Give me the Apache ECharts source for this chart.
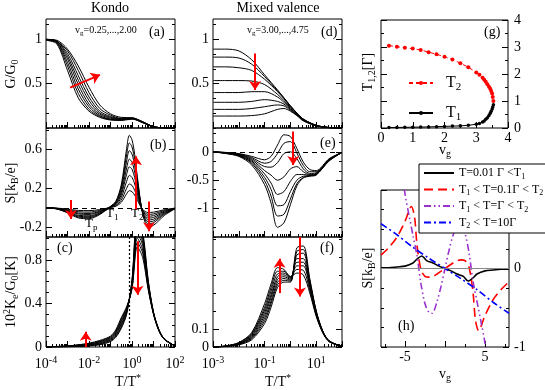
<!DOCTYPE html>
<html><head><meta charset="utf-8">
<script src="https://cdn.jsdelivr.net/npm/echarts@6.0.0/dist/echarts.min.js"></script>
<style>html,body{margin:0;padding:0;background:#fff;}#chart{width:545px;height:390px;}</style>
</head><body><div id="chart"></div>
<script>
// ================= DATA =================
// x grids are log10(T/T*)
// (a) Kondo: G/G0, v_g = 0.25 ... 2.00
const logT_a = [-4,-3.5,-3,-2.5,-2,-1.5,-1,-0.5,0,0.5,1,1.5,2];
const G_kondo = [
  [0.99,0.95,0.65,0.34,0.19,0.12,0.09,0.085,0.10,0.06,0.012,0.002,0],
  [0.99,0.96,0.70,0.39,0.21,0.13,0.095,0.09,0.105,0.06,0.012,0.002,0],
  [1.0,0.97,0.74,0.44,0.24,0.14,0.10,0.09,0.105,0.062,0.012,0.002,0],
  [1.0,0.97,0.78,0.49,0.27,0.155,0.11,0.095,0.11,0.064,0.013,0.002,0],
  [1.0,0.98,0.81,0.54,0.31,0.17,0.12,0.10,0.11,0.066,0.013,0.002,0],
  [1.0,0.98,0.84,0.59,0.35,0.19,0.13,0.105,0.11,0.068,0.013,0.002,0],
  [1.0,0.98,0.87,0.65,0.40,0.22,0.145,0.11,0.115,0.07,0.014,0.002,0],
  [1.0,0.99,0.89,0.70,0.46,0.26,0.16,0.12,0.115,0.07,0.014,0.002,0]
];
// (b) Kondo: thermopower S
const logT_b = [-4,-3.5,-3,-2.5,-2,-1.5,-1,-0.75,-0.5,-0.25,-0.125,0,0.125,0.25,0.5,0.75,1,1.5,2];
const S_kondo = [
  [0,-0.003,-0.0135,-0.027,-0.029,-0.018,0.004,0.016,0.056,0.144,0.176,0.166,0.13,0.076,-0.018,-0.048,-0.045,-0.02,-0.003],
  [0,-0.005,-0.02,-0.04,-0.044,-0.027,0.005,0.022,0.078,0.2,0.245,0.23,0.18,0.105,-0.025,-0.067,-0.063,-0.028,-0.004],
  [0,-0.006,-0.027,-0.054,-0.058,-0.036,0.007,0.031,0.105,0.272,0.333,0.313,0.245,0.143,-0.032,-0.086,-0.081,-0.036,-0.005],
  [0,-0.007,-0.032,-0.063,-0.068,-0.042,0.009,0.039,0.133,0.344,0.421,0.396,0.31,0.181,-0.039,-0.105,-0.099,-0.044,-0.006],
  [0,-0.009,-0.038,-0.077,-0.082,-0.051,0.01,0.046,0.158,0.408,0.5,0.469,0.367,0.214,-0.046,-0.124,-0.117,-0.052,-0.007],
  [0,-0.01,-0.043,-0.086,-0.092,-0.057,0.012,0.054,0.186,0.48,0.588,0.552,0.432,0.252,-0.053,-0.143,-0.135,-0.06,-0.008],
  [0,-0.011,-0.047,-0.095,-0.102,-0.063,0.014,0.061,0.211,0.544,0.666,0.626,0.49,0.286,-0.06,-0.162,-0.153,-0.068,-0.009],
  [0,-0.012,-0.052,-0.104,-0.112,-0.069,0.015,0.068,0.236,0.608,0.745,0.699,0.547,0.319,-0.07,-0.19,-0.18,-0.08,-0.01]
];
// (c) Kondo: 10^2 K_e/G0
const logT_c = [-4,-3.5,-3,-2.5,-2,-1.5,-1,-0.75,-0.5,-0.25,0,0.25,0.5,0.75,1,1.25,1.5,2];
const K_kondo = [
  [0,0.001,0.002,0.005,0.01,0.02,0.05,0.09,0.17,0.3,0.62,1.2,1.06,0.62,0.32,0.16,0.075,0.01],
  [0,0.002,0.003,0.007,0.013,0.026,0.057,0.1,0.184,0.31,0.607,1.16,1.03,0.607,0.317,0.159,0.074,0.01],
  [0.001,0.002,0.004,0.009,0.017,0.031,0.064,0.11,0.199,0.32,0.594,1.12,0.99,0.594,0.314,0.157,0.074,0.01],
  [0.001,0.003,0.005,0.011,0.02,0.037,0.071,0.12,0.213,0.33,0.581,1.08,0.96,0.581,0.311,0.156,0.073,0.01],
  [0.001,0.003,0.006,0.013,0.023,0.043,0.079,0.13,0.227,0.34,0.569,1.04,0.93,0.569,0.309,0.154,0.072,0.01],
  [0.001,0.004,0.008,0.016,0.027,0.049,0.086,0.14,0.241,0.35,0.556,1.0,0.89,0.556,0.306,0.153,0.071,0.01],
  [0.002,0.004,0.009,0.018,0.031,0.054,0.093,0.15,0.256,0.36,0.543,0.96,0.86,0.543,0.303,0.151,0.071,0.01],
  [0.002,0.005,0.01,0.02,0.035,0.06,0.1,0.16,0.27,0.37,0.53,0.92,0.82,0.53,0.3,0.15,0.07,0.01]
];
// (d) Mixed valence: G/G0, v_g = 3.00 ... 4.75
const logT_d = [-3,-2.5,-2,-1.5,-1,-0.5,-0.25,0,0.25,0.5,1,1.5,2];
const G_mv = [
  [0.89,0.89,0.87,0.77,0.6,0.43,0.34,0.25,0.17,0.1,0.03,0.005,0],
  [0.80,0.80,0.79,0.72,0.58,0.42,0.34,0.25,0.17,0.1,0.03,0.005,0],
  [0.69,0.69,0.68,0.65,0.55,0.41,0.33,0.24,0.165,0.1,0.03,0.005,0],
  [0.535,0.535,0.535,0.53,0.49,0.38,0.31,0.23,0.16,0.095,0.028,0.005,0],
  [0.40,0.40,0.40,0.41,0.41,0.35,0.29,0.22,0.155,0.09,0.027,0.005,0],
  [0.29,0.29,0.29,0.30,0.32,0.30,0.27,0.21,0.15,0.09,0.026,0.004,0],
  [0.21,0.21,0.21,0.22,0.24,0.26,0.25,0.2,0.145,0.085,0.025,0.004,0],
  [0.135,0.135,0.135,0.14,0.16,0.21,0.22,0.19,0.14,0.08,0.024,0.004,0]
];
// (e) Mixed valence: S
const logT_e = [-3,-2.5,-2,-1.5,-1,-0.75,-0.5,-0.25,0,0.25,0.5,0.75,1,1.5,2];
const S_mv = [
  [0,-0.01,-0.03,-0.08,-0.14,-0.08,0.12,0.3,0.27,0.06,-0.18,-0.31,-0.33,-0.12,-0.01],
  [0,-0.013,-0.037,-0.1,-0.2,-0.17,-0.03,0.15,0.18,-0.02,-0.24,-0.35,-0.35,-0.13,-0.01],
  [0,-0.016,-0.044,-0.12,-0.26,-0.27,-0.19,-0.03,0.0,-0.12,-0.3,-0.38,-0.37,-0.14,-0.01],
  [0,-0.019,-0.051,-0.14,-0.33,-0.41,-0.5,-0.44,-0.3,-0.26,-0.35,-0.4,-0.38,-0.14,-0.01],
  [0,-0.021,-0.058,-0.16,-0.39,-0.55,-0.75,-0.7,-0.52,-0.4,-0.4,-0.41,-0.39,-0.15,-0.01],
  [0,-0.024,-0.065,-0.18,-0.45,-0.66,-0.95,-0.93,-0.7,-0.5,-0.43,-0.42,-0.4,-0.15,-0.01],
  [0,-0.027,-0.072,-0.2,-0.51,-0.78,-1.13,-1.1,-0.83,-0.56,-0.45,-0.42,-0.4,-0.16,-0.01],
  [0,-0.03,-0.08,-0.23,-0.58,-0.9,-1.33,-1.25,-0.93,-0.6,-0.46,-0.43,-0.41,-0.16,-0.01]
];
// (f) Mixed valence: 10^2 K_e/G0
const logT_f = [-3,-2.5,-2,-1.5,-1,-0.75,-0.5,-0.25,0,0.25,0.5,0.75,1,1.25,1.5,2];
const K_mv = [
  [0,0.003,0.012,0.04,0.13,0.22,0.33,0.36,0.36,0.55,0.56,0.38,0.2,0.09,0.035,0.003],
  [0,0.003,0.014,0.046,0.145,0.24,0.345,0.37,0.365,0.53,0.54,0.37,0.2,0.09,0.034,0.003],
  [0,0.004,0.016,0.051,0.16,0.255,0.36,0.38,0.37,0.51,0.52,0.36,0.195,0.088,0.033,0.003],
  [0,0.004,0.018,0.057,0.175,0.275,0.375,0.39,0.375,0.49,0.49,0.35,0.19,0.086,0.033,0.003],
  [0,0.005,0.019,0.063,0.19,0.29,0.39,0.40,0.38,0.47,0.47,0.34,0.185,0.085,0.032,0.003],
  [0,0.005,0.021,0.069,0.205,0.31,0.405,0.41,0.385,0.45,0.45,0.33,0.18,0.083,0.031,0.003],
  [0,0.006,0.023,0.074,0.22,0.33,0.42,0.42,0.39,0.43,0.425,0.315,0.175,0.082,0.03,0.003],
  [0,0.006,0.025,0.08,0.24,0.35,0.44,0.43,0.39,0.41,0.4,0.3,0.17,0.08,0.03,0.003]
];
// (g) crossing temperatures vs v_g
const vg_T2 = [0.25,0.5,0.75,1.0,1.25,1.5,1.75,2.0,2.25,2.5,2.75,3.0,3.1,3.2,3.25,3.3,3.35,3.4,3.44,3.47,3.5,3.52,3.54];
const T2_vals = [3.05,3.01,2.97,2.94,2.89,2.81,2.73,2.64,2.54,2.40,2.25,2.06,1.97,1.86,1.79,1.71,1.62,1.53,1.45,1.37,1.28,1.15,1.0];
const vg_T1 = [0.25,0.5,0.75,1.0,1.25,1.5,1.75,2.0,2.25,2.5,2.75,3.0,3.1,3.2,3.25,3.3,3.35,3.4,3.44,3.47,3.5,3.52,3.54];
const T1_vals = [0.02,0.02,0.025,0.03,0.035,0.04,0.05,0.06,0.07,0.08,0.1,0.14,0.17,0.22,0.26,0.32,0.38,0.46,0.55,0.62,0.7,0.78,0.86];
// (h) S vs v_g at four temperatures
const h_black_x = [-8,-7,-6,-5,-4,-3.5,-2.9,-2.3,-1.5,-0.75,0,0.75,1.5,2.3,2.9,3.5,4,5,6,7,8];
const h_black_y = [0.01,0.01,0.02,0.03,0.07,0.12,0.16,0.1,0.07,0.03,0,-0.03,-0.07,-0.1,-0.16,-0.12,-0.07,-0.03,-0.02,-0.01,-0.01];
const h_red_x = [-8,-7,-6,-5,-4.2,-3.8,-3.5,-3,-2.5,-2,-1.5,-1,0,1,1.5,2,2.5,3,3.5,3.8,4.2,5,6,7,8];
const h_red_y = [0.17,0.27,0.4,0.6,0.79,0.65,0.3,-0.02,-0.1,-0.11,-0.1,-0.07,0,0.07,0.1,0.11,0.1,0.02,-0.3,-0.65,-0.79,-0.6,-0.4,-0.27,-0.17];
const h_purple_x = [-5.4,-5,-4.5,-4,-3.5,-3,-2.5,-2,-1.6,-1,-0.5,0,0.5,1,1.6,2,2.5,3,3.5,4,4.5,5,5.4];
const h_purple_y = [1.25,0.95,0.68,0.42,0.16,-0.2,-0.45,-0.56,-0.57,-0.42,-0.23,0,0.23,0.42,0.57,0.56,0.45,0.2,-0.16,-0.42,-0.68,-0.95,-1.25];
const h_blue_x = [-8,-6,-4,-2,0,2,4,6,8];
const h_blue_y = [0.57,0.43,0.27,0.13,0,-0.13,-0.27,-0.43,-0.57];
// red arrows [x1,y1,x2,y2] in data units
const arrows_a = [[-2.88,0.455,-1.49,0.60]];
const arrows_b = [[-2.84,0.08,-2.84,-0.116],[0.19,-0.02,0.19,0.53],[0.79,0.065,0.79,-0.24]];
const arrows_c = [[-2.15,0.0,-2.15,0.14],[0.26,0.97,0.26,0.48]];
const arrows_d = [[-1.37,0.84,-1.37,0.43]];
const arrows_e = [[0.11,0.36,0.11,-0.23]];
const arrows_f = [[-0.42,0.30,-0.42,0.49],[0.37,0.61,0.37,0.28]];
const markT_c = -0.14;
// tick labels
const ticksLeftLab = [-4,-2,0,2];
const ticksMidLab = [-3,-1,1];

// ================= BUILD =================
const FONT = 'Liberation Serif';
function R(fs){
  const s = Math.round(fs*0.68), p = Math.round(fs*0.55);
  return {
    n:{fontFamily:FONT,fontSize:fs,color:'#000'},
    sup:{fontFamily:FONT,fontSize:s,color:'#000',padding:[0,0,p,0]},
    sub:{fontFamily:FONT,fontSize:s,color:'#000',padding:[p,0,0,0]}
  };
}
function range(a,b,s){ const r=[]; for(let i=0; a+i*s<=b+1e-9; i++) r.push(+(a+i*s).toFixed(5)); return r; }
function logMinor(d0,d1){ const r=[]; for(let d=d0; d<d1; d++) for(let k=2;k<=9;k++) r.push(d+Math.log10(k)); return r; }
function numfmt(v){ return Math.abs(v)<1e-9 ? '0' : String(+v.toFixed(2)); }
function linfmt(v){ return '{n|'+numfmt(v)+'}'; }
function logfmt(v){ return '{n|10}{sup|'+Math.round(v)+'}'; }

const grids=[], xAxes=[], yAxes=[], series=[];
const TICK = {color:'#000', width:1};
function panel(p){
  const gi = grids.length;
  grids.push({left:p.l, top:p.t, width:p.w, height:p.h, show:true, borderColor:'#000', borderWidth:1,
    backgroundColor:'rgba(0,0,0,0)', containLabel:false, outerBoundsMode:'none'});
  const base = () => ({type:'value', gridIndex:gi, splitLine:{show:false}, axisLine:{show:false, onZero:false},
    minorTick:{show:false}, minorSplitLine:{show:false}, silent:true});
  const lab = (vals, fmt, margin) => ({show:true, customValues:vals, formatter:fmt, margin:margin,
    rich:R(14), color:'#000', fontFamily:FONT, fontSize:14});
  const xi = xAxes.length;
  xAxes.push(Object.assign(base(), {position:'bottom', min:p.x[0], max:p.x[1],
    axisTick:{show:true, inside:true, length:6, lineStyle:TICK, customValues:p.xMaj},
    axisLabel: p.xLab ? lab(p.xLab, p.xFmt, p.xMargin) : {show:false}}));
  xAxes.push(Object.assign(base(), {position:'bottom', min:p.x[0], max:p.x[1],
    axisTick:{show:true, inside:true, length:3, lineStyle:TICK, customValues:p.xMin}, axisLabel:{show:false}}));
  const yi = yAxes.length;
  ['left','right'].forEach(side => {
    const hasLab = p.yLab && p.ySide === side;
    yAxes.push(Object.assign(base(), {position:side, min:p.y[0], max:p.y[1],
      axisTick:{show:true, inside:true, length:6, lineStyle:TICK, customValues:p.yMaj},
      axisLabel: hasLab ? lab(p.yLab, linfmt, p.yMargin) : {show:false}}));
    yAxes.push(Object.assign(base(), {position:side, min:p.y[0], max:p.y[1],
      axisTick:{show:true, inside:true, length:3, lineStyle:TICK, customValues:p.yMin}, axisLabel:{show:false}}));
  });
  return {xi:xi, yi:yi};
}
function arrowItems(list){
  return list.map(a => [
    {coord:[a[0],a[1]], symbol:'none', lineStyle:{color:'#ff0000', width:2, type:'solid'}},
    {coord:[a[2],a[3]], symbol:'arrow', symbolSize:9}
  ]);
}
function addCurves(ax, xs, curves, markData){
  curves.forEach((ys, i) => {
    const s = {type:'line', xAxisIndex:ax.xi, yAxisIndex:ax.yi,
      data: xs.map((x,j) => [x, ys[j]]), symbol:'none', showSymbol:false, smooth:0.3,
      silent:true, clip:true, lineStyle:{color:'#000', width:1}, itemStyle:{color:'#000'}, z:2};
    if (i === curves.length-1 && markData) {
      s.markLine = {silent:true, symbol:'none', label:{show:false}, animation:false,
        lineStyle:{color:'#ff0000', width:2, type:'solid'}, itemStyle:{color:'#ff0000'}, data:markData};
    }
    series.push(s);
  });
}

const sixth = range(0,1.2,1/6);
const axA = panel({l:46,t:19,w:129,h:109, x:[-4,2], xMaj:range(-4,2,1), xMin:logMinor(-4,2),
  y:[0,1.23], yMaj:[0.5,1], yMin:sixth, yLab:[0.5,1], ySide:'left', yMargin:4});
const axB = panel({l:46,t:128,w:129,h:109, x:[-4,2], xMaj:range(-4,2,1), xMin:logMinor(-4,2),
  y:[-0.3,0.82], yMaj:[-0.2,0.2,0.6], yMin:[-0.2,0,0.2,0.4,0.6,0.8], yLab:[-0.2,0.2,0.6], ySide:'left', yMargin:4});
const axC = panel({l:46,t:237,w:129,h:110, x:[-4,2], xMaj:range(-4,2,1), xMin:logMinor(-4,2),
  xLab:ticksLeftLab, xFmt:logfmt, xMargin:8,
  y:[0,1.01], yMaj:[0,0.4,0.8], yMin:range(0,1,0.1), yLab:[0,0.4,0.8], ySide:'left', yMargin:4});
const axD = panel({l:213,t:19,w:129,h:109, x:[-3,2], xMaj:range(-3,2,1), xMin:logMinor(-3,2),
  y:[0,1.23], yMaj:[0.5,1], yMin:sixth, yLab:[0.5,1], ySide:'left', yMargin:4});
const axE = panel({l:213,t:128,w:129,h:109, x:[-3,2], xMaj:range(-3,2,1), xMin:logMinor(-3,2),
  y:[-1.5,0.42], yMaj:[-1,-0.5,0], yMin:range(-1.5,0.34,1/6), yLab:[-1,-0.5,0], ySide:'left', yMargin:4});
const axF = panel({l:213,t:237,w:129,h:110, x:[-3,2], xMaj:range(-3,2,1), xMin:logMinor(-3,2),
  xLab:ticksMidLab, xFmt:logfmt, xMargin:8,
  y:[0,0.61], yMaj:[0,0.1], yMin:range(0,0.6,0.1), yLab:[0,0.1], ySide:'left', yMargin:4});
const axG = panel({l:381,t:20,w:127,h:108, x:[0,4], xMaj:[0,1,2,3,4], xMin:[0.5,1.5,2.5,3.5],
  xLab:[0,1,2,3,4], xFmt:linfmt, xMargin:3,
  y:[0,4], yMaj:[0,1,2,3,4], yMin:[0.5,1.5,2.5,3.5], yLab:[0,1,2,3,4], ySide:'right', yMargin:6});
const axH = panel({l:381,t:190,w:128,h:157, x:[-8,8], xMaj:[-5,0,5], xMin:[-7.5,-2.5,2.5,7.5],
  xLab:[-5,5], xFmt:linfmt, xMargin:3,
  y:[-1,1], yMaj:[-1,0,1], yMin:range(-1,1,0.25), yLab:[-1,0], ySide:'right', yMargin:5});

const dashed0 = {yAxis:0, lineStyle:{type:[5,4], color:'#000', width:1}};
addCurves(axA, logT_a, G_kondo, arrowItems(arrows_a));
addCurves(axB, logT_b, S_kondo, [dashed0].concat(arrowItems(arrows_b)));
addCurves(axC, logT_c, K_kondo, [{xAxis:markT_c, lineStyle:{type:[2,2], color:'#000', width:1.2}}].concat(arrowItems(arrows_c)));
addCurves(axD, logT_d, G_mv, arrowItems(arrows_d));
addCurves(axE, logT_e, S_mv, [dashed0].concat(arrowItems(arrows_e)));
addCurves(axF, logT_f, K_mv, arrowItems(arrows_f));

// (g)
series.push({type:'line', name:'T2', xAxisIndex:axG.xi, yAxisIndex:axG.yi,
  data: vg_T2.map((v,i)=>[v,T2_vals[i]]), symbol:'circle', symbolSize:4, showSymbol:true, showAllSymbol:true,
  lineStyle:{color:'#ff0000', width:1, type:[4,3]}, itemStyle:{color:'#ff0000'}, silent:true, z:3});
series.push({type:'line', name:'T1', xAxisIndex:axG.xi, yAxisIndex:axG.yi,
  data: vg_T1.map((v,i)=>[v,T1_vals[i]]), symbol:'circle', symbolSize:3.5, showSymbol:true, showAllSymbol:true,
  lineStyle:{color:'#000', width:1}, itemStyle:{color:'#000'}, silent:true, z:3});

// (h)
function hSeries(name, xs, ys, color, type, width, extra){
  const s = {type:'line', name:name, xAxisIndex:axH.xi, yAxisIndex:axH.yi,
    data: xs.map((x,i)=>[x,ys[i]]), symbol:'none', showSymbol:false, smooth:0.3, clip:true,
    lineStyle:{color:color, width:width, type:type}, itemStyle:{color:color}, silent:true, z:3};
  if (extra) Object.assign(s, extra);
  series.push(s);
}
hSeries('h1', h_black_x, h_black_y, '#000000', 'solid', 1.6,
  {markLine:{silent:true, symbol:'none', label:{show:false}, animation:false,
    data:[{yAxis:0, lineStyle:{color:'#888', width:1, type:'solid'}}]}});
hSeries('h2', h_red_x, h_red_y, '#ff0000', [9,5], 1.6);
hSeries('h3', h_purple_x, h_purple_y, '#9a32cd', [7,3,1.5,3,1.5,3], 1.6);
hSeries('h4', h_blue_x, h_blue_y, '#0000ff', [7,3,2,3], 1.6);

const legG = {T2:'{n|  T}{sub|2}', T1:'{n|  T}{sub|1}'};
const legH = {
  h1:'{n|T=0.01 Γ <T}{sub|1}',
  h2:'{n|T}{sub|1}{n| < T=0.1Γ < T}{sub|2}',
  h3:'{n|T}{sub|1}{n| < T=Γ < T}{sub|2}',
  h4:'{n|T}{sub|2}{n| < T=10Γ}'
};

function gt(x,y,txt,fs,align,rot){
  return {type:'text', x:x, y:y, rotation:rot||0, z:50, silent:true,
    style:{text:txt, rich:R(fs), align:align||'center', verticalAlign:'middle', fill:'#000', fontFamily:FONT, fontSize:fs}};
}
const UP = Math.PI/2;
const graphic = [
  gt(110,8,'{n|Kondo}',14),
  gt(278,8,'{n|Mixed valence}',14),
  gt(75,30,'{n|v}{sub|g}{n|=0.25,...,2.00}',10,'left'),
  gt(149,32,'{n|(a)}',14,'left'),
  gt(247,30,'{n|v}{sub|g}{n|=3.00,...,4.75}',10,'left'),
  gt(321,32,'{n|(d)}',14,'left'),
  gt(150,145,'{n|(b)}',14,'left'),
  gt(320,143,'{n|(e)}',14,'left'),
  gt(57,248,'{n|(c)}',14,'left'),
  gt(320,248,'{n|(f)}',14,'left'),
  gt(484,32,'{n|(g)}',14,'left'),
  gt(398,326,'{n|(h)}',14,'left'),
  gt(85,224,'{n|T}{sub|p}',13,'left'),
  gt(106,214,'{n|T}{sub|1}',13,'left'),
  gt(131,214,'{n|T}{sub|2}',13,'left'),
  gt(11,74,'{n|G/G}{sub|0}',14,'center',UP),
  gt(11,183,'{n|S[k}{sub|B}{n|/e]}',14,'center',UP),
  gt(11,292,'{n|10}{sup|2}{n|K}{sub|e}{n|/G}{sub|0}{n|[K]}',14,'center',UP),
  gt(368,72,'{n|T}{sub|1,2}{n|[Γ]}',14,'center',UP),
  gt(368,268,'{n|S[k}{sub|B}{n|/e]}',14,'center',UP),
  gt(128,382,'{n|T/T}{sup|*}',14),
  gt(278,382,'{n|T/T}{sup|*}',14),
  gt(445,150,'{n|v}{sub|g}',14),
  gt(445,374,'{n|v}{sub|g}',14)
];

const option = {
  animation:false,
  backgroundColor:'#fff',
  textStyle:{fontFamily:FONT},
  grid:grids, xAxis:xAxes, yAxis:yAxes, series:series,
  legend:[
    {show:true, orient:'vertical', left:408, top:75, itemGap:12, itemWidth:24, itemHeight:5,
     data:['T2','T1'], formatter:n=>legG[n], selectedMode:false, padding:0,
     textStyle:{rich:R(16), fontFamily:FONT, fontSize:16, color:'#000'}},
    {show:true, orient:'vertical', left:419, top:164, itemGap:3, itemWidth:30, itemHeight:12,
     data:['h1','h2','h3','h4'], formatter:n=>legH[n], selectedMode:false,
     itemStyle:{opacity:0, color:'rgba(0,0,0,0)', borderWidth:0},
     backgroundColor:'#fff', borderColor:'#000', borderWidth:1, padding:[3,6,3,4], z:10,
     textStyle:{rich:R(12), fontFamily:FONT, fontSize:12, color:'#000'}}
  ],
  graphic:graphic
};
const chart = echarts.init(document.getElementById('chart'), null, {renderer:'canvas'});
chart.setOption(option);
</script></body></html>
